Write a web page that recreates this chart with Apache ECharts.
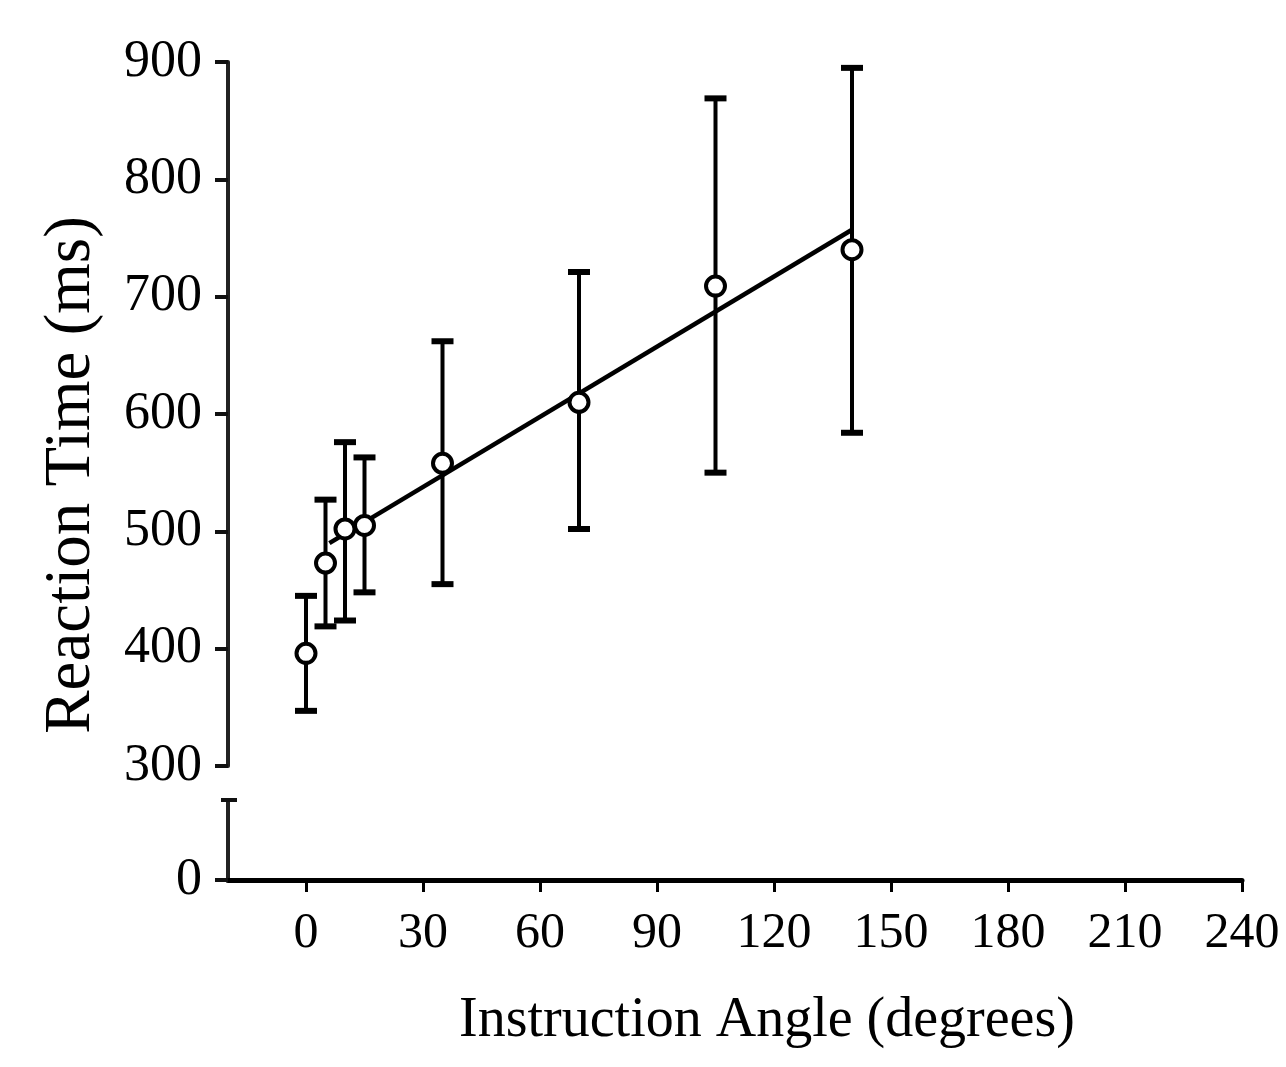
<!DOCTYPE html>
<html>
<head>
<meta charset="utf-8">
<script src="https://cdn.jsdelivr.net/npm/echarts@6.0.0/dist/echarts.min.js"></script>
<style>
  html, body { margin: 0; padding: 0; background: #fff; }
  #chart { width: 1286px; height: 1067px; }
</style>
</head>
<body>
<div id="chart"></div>
<script>
// instruction angle of each condition (degrees)
var angles = [0, 5, 10, 15, 35, 70, 105, 140];
// mean reaction time and error bar ends (ms)
var meanRT = [396, 473, 502, 505, 558, 610, 709, 740];
var upperRT = [445, 527, 576, 563, 662, 721, 869, 895];
var lowerRT = [347, 419, 424, 448, 455, 502, 550, 584];
// fitted line end points
var fitX = [6, 140];
var fitY = [490, 757];
// tick labels
var xTicks = [0, 30, 60, 90, 120, 150, 180, 210, 240];
var yTicksBottom = [0];

var font = '"Liberation Serif", "Times New Roman", serif';

var points = angles.map(function (a, i) { return [a, meanRT[i]]; });
var bars = angles.map(function (a, i) { return [a, lowerRT[i], upperRT[i]]; });
var fit = fitX.map(function (x, i) { return [x, fitY[i]]; });

var myChart = echarts.init(document.getElementById('chart'));

// extra axes that only draw the break mark on the lower segment
function breakAxis(inside, len) {
  return {
    gridIndex: 1,
    type: 'value',
    min: 0,
    max: 68,
    position: 'left',
    offset: 0,
    axisLine: { show: false, onZero: false },
    axisTick: { show: true, inside: inside, customValues: [68], length: len, lineStyle: { color: '#111', width: 4 } },
    axisLabel: { show: false },
    splitLine: { show: false }
  };
}

var option = {
  animation: false,
  backgroundColor: '#fff',
  grid: [
    { left: 228, right: 44, top: 62, height: 704 },  // 300 - 900 part
    { left: 228, right: 44, top: 800, height: 80 }   // part below the break
  ],
  xAxis: [{
    gridIndex: 0,
    type: 'value',
    min: -20,
    max: 240,
    show: false
  }, {
    gridIndex: 1,
    type: 'value',
    min: -20,
    max: 240,
    axisLine: { show: true, onZero: false, lineStyle: { color: '#000', width: 5 } },
    axisTick: { show: true, customValues: xTicks, length: 12, lineStyle: { color: '#000', width: 3 } },
    axisLabel: {
      customValues: xTicks,
      margin: 29,
      color: '#000',
      fontFamily: font,
      fontSize: 50
    },
    splitLine: { show: false }
  }],
  yAxis: [{
    gridIndex: 0,
    type: 'value',
    min: 300,
    max: 900,
    interval: 100,
    axisLine: { show: true, onZero: false, lineStyle: { color: '#222', width: 4 } },
    axisTick: { show: true, length: 13, lineStyle: { color: '#111', width: 4 } },
    axisLabel: { margin: 26, color: '#000', fontFamily: font, fontSize: 52 },
    splitLine: { show: false }
  }, {
    gridIndex: 1,
    type: 'value',
    min: 0,
    max: 68,
    axisLine: { show: true, onZero: false, lineStyle: { color: '#222', width: 4 } },
    axisTick: { show: true, customValues: [0], length: 13, lineStyle: { color: '#111', width: 4 } },
    axisLabel: { customValues: yTicksBottom, margin: 26, color: '#000', fontFamily: font, fontSize: 52 },
    splitLine: { show: false }
  },
  breakAxis(false, 7),
  breakAxis(true, 9)
  ],
  graphic: [{
    type: 'text',
    x: 72,
    y: 475,
    rotation: Math.PI / 2,
    style: {
      text: 'Reaction Time (ms)',
      font: '65px ' + font,
      fill: '#000',
      align: 'center',
      verticalAlign: 'middle',
      textAlign: 'center',
      textVerticalAlign: 'middle'
    }
  }, {
    type: 'text',
    x: 767,
    y: 1021,
    style: {
      text: 'Instruction Angle (degrees)',
      font: '56px ' + font,
      fill: '#000',
      align: 'center',
      verticalAlign: 'middle',
      textAlign: 'center',
      textVerticalAlign: 'middle'
    }
  }],
  series: [{
    name: 'error',
    type: 'custom',
    xAxisIndex: 0,
    yAxisIndex: 0,
    z: 1,
    data: bars,
    encode: { x: 0, y: [1, 2] },
    renderItem: function (params, api) {
      var x = api.value(0);
      var lo = api.coord([x, api.value(1)]);
      var hi = api.coord([x, api.value(2)]);
      var w = 11;
      var capStyle = { stroke: '#000', lineWidth: 6 };
      return {
        type: 'group',
        children: [
          { type: 'line', shape: { x1: lo[0], y1: lo[1], x2: hi[0], y2: hi[1] }, style: { stroke: '#000', lineWidth: 4 } },
          { type: 'line', shape: { x1: hi[0] - w, y1: hi[1], x2: hi[0] + w, y2: hi[1] }, style: capStyle },
          { type: 'line', shape: { x1: lo[0] - w, y1: lo[1], x2: lo[0] + w, y2: lo[1] }, style: capStyle }
        ]
      };
    }
  }, {
    name: 'fit',
    type: 'line',
    xAxisIndex: 0,
    yAxisIndex: 0,
    z: 2,
    data: fit,
    symbol: 'none',
    lineStyle: { color: '#000', width: 4.5 }
  }, {
    name: 'mean',
    type: 'scatter',
    xAxisIndex: 0,
    yAxisIndex: 0,
    z: 3,
    data: points,
    symbol: 'circle',
    symbolSize: 19,
    itemStyle: { color: '#fff', borderColor: '#000', borderWidth: 4, opacity: 1 }
  }]
};

myChart.setOption(option);
window.addEventListener('resize', function () {
  myChart.resize();
});
</script>
</body>
</html>
